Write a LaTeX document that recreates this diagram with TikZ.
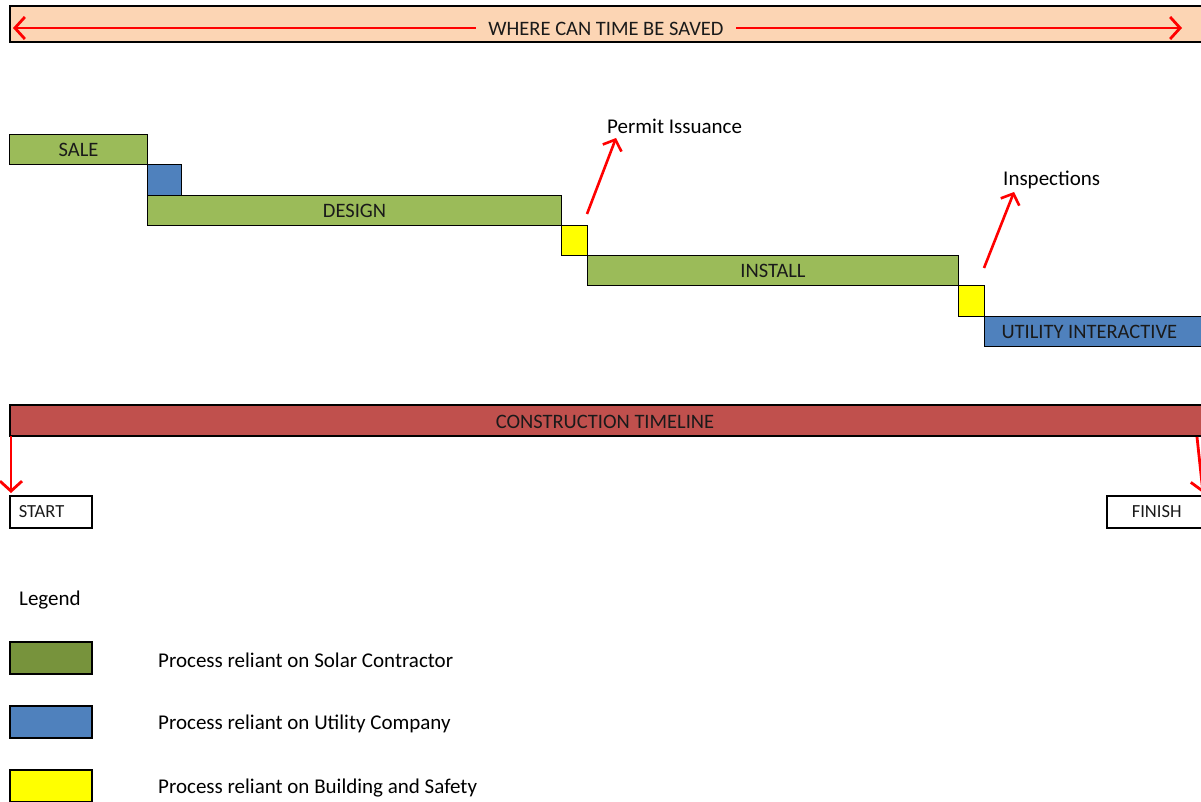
\documentclass[tikz,border=0pt]{standalone}
\usepackage{fontspec}
\setmainfont{Carlito}
\usetikzlibrary{arrows.meta}
\definecolor{peach}{HTML}{FCD5B4}
\definecolor{sgreen}{HTML}{9BBB59}
\definecolor{dgreen}{HTML}{77933C}
\definecolor{ublue}{HTML}{4F81BD}
\definecolor{byellow}{HTML}{FFFF00}
\definecolor{tred}{HTML}{C0504D}
\definecolor{txt}{HTML}{1A1A1A}
\tikzset{
  bar/.style={draw=black, line width=1pt, inner sep=0pt, anchor=north west, text=txt,
    font=\fontsize{20.5}{20.5}\selectfont},
  lbl/.style={inner sep=0pt, anchor=west, text=black, font=\fontsize{21}{21}\selectfont},
  redarrow/.style={draw=red, line width=2.8pt, -{Straight Barb[length=10pt,width=22pt,line width=2.8pt]}},
  smallbox/.style={draw=black, line width=1.5pt, fill=white, inner sep=0pt, anchor=north west,
    font=\fontsize{18.5}{18.5}\selectfont, text=txt},
}
\begin{document}
\begin{tikzpicture}[x=1pt,y=-1pt]
\useasboundingbox[fill=white] (0,0) rectangle (1201,802);
% top banner
\node[bar, line width=1.6pt, fill=peach, minimum width=1200pt, minimum height=36pt] (banner) at (9,5) {};
\coordinate (bl) at (13,28);
\coordinate (br) at (1182,28);
\draw[redarrow, {Straight Barb[length=10pt,width=22pt,line width=2.8pt]}-{Straight Barb[length=10pt,width=22pt,line width=2.8pt]}] (bl) -- (br);
\node[fill=peach, inner sep=0pt, minimum height=22pt, minimum width=260pt, text=txt, font=\fontsize{20.5}{20.5}\selectfont] (bannertext) at (606,29) {WHERE CAN TIME BE SAVED};
% process bars
\node[bar, fill=sgreen, minimum width=138pt, minimum height=30pt] (sale) at (9,134) {\raisebox{-2pt}{SALE}};
\node[bar, fill=ublue, minimum width=34pt, minimum height=31pt] (u1) at (147,164) {};
\node[bar, fill=sgreen, minimum width=414pt, minimum height=30pt] (design) at (147,195) {\raisebox{-2pt}{DESIGN}};
\node[bar, fill=byellow, minimum width=26pt, minimum height=30pt] (y1) at (561,225) {};
\node[bar, fill=sgreen, minimum width=371pt, minimum height=30pt] (install) at (587,255) {\raisebox{-2pt}{INSTALL}};
\node[bar, fill=byellow, minimum width=26pt, minimum height=31pt] (y2) at (958,285) {};
\node[bar, fill=ublue, minimum width=226pt, minimum height=30pt] (utility) at (984,316) {\makebox[226pt][l]{\hspace*{17pt}\raisebox{-2pt}{UTILITY INTERACTIVE}}};
% annotations
\node[lbl] (permit) at (607,126) {Permit Issuance};
\node[lbl] (insp) at (1003,180) {Inspections};
\coordinate (pa) at (587,214);
\coordinate (pb) at (616,138);
\draw[redarrow, -{Straight Barb[length=9pt,width=20pt,line width=2.6pt]}, line width=2.6pt] (pa) -- (pb);
\coordinate (ia) at (984,268);
\coordinate (ib) at (1014,192);
\draw[redarrow, -{Straight Barb[length=9pt,width=20pt,line width=2.6pt]}, line width=2.6pt] (ia) -- (ib);
% construction timeline
\node[bar, line width=1.6pt, fill=tred, minimum width=1200pt, minimum height=31pt] (timeline) at (9,404) {};
\node[text=txt, inner sep=0pt, font=\fontsize{20.5}{20.5}\selectfont] (tltext) at (605,422) {CONSTRUCTION TIMELINE};
\node[smallbox, minimum width=82pt, minimum height=32pt] (start) at (9,495) {\makebox[82pt][l]{\hspace*{9pt}START}};
\node[smallbox, minimum width=100pt, minimum height=32pt] (finish) at (1106,495) {\makebox[100pt][l]{\hspace*{25pt}FINISH}};
\coordinate (sa) at (11,436);
\coordinate (sb) at (11,493);
\draw[redarrow] (sa) -- (sb);
\coordinate (fa) at (1197,437);
\coordinate (fb) at (1203,493);
\draw[redarrow] (fa) -- (fb);
% legend
\node[lbl] (legend) at (19,600) {Legend};
\node[smallbox, fill=dgreen, minimum width=82pt, minimum height=32pt] (lg) at (9,641) {};
\node[smallbox, fill=ublue, minimum width=82pt, minimum height=32pt] (lb) at (9,705) {};
\node[smallbox, fill=byellow, minimum width=82pt, minimum height=32pt] (ly) at (9,769) {};
\node[lbl] (lgt) at (158,660) {Process reliant on Solar Contractor};
\node[lbl] (lbt) at (158,724) {Process reliant on Utility Company};
\node[lbl] (lyt) at (158,788) {Process reliant on Building and Safety};
\end{tikzpicture}
\end{document}
